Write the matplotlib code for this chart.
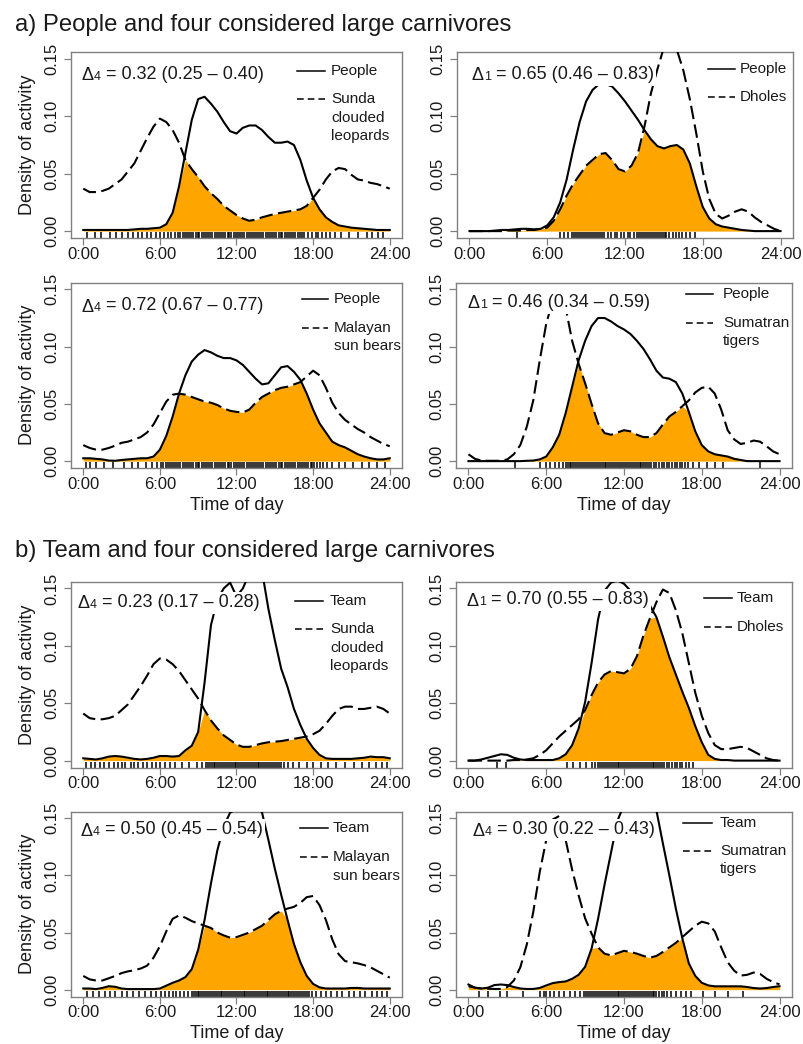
import numpy as np
import matplotlib
matplotlib.use("Agg")
import matplotlib.pyplot as plt
from matplotlib.lines import Line2D

plt.rcParams['font.family'] = ['Liberation Sans', 'DejaVu Sans']

# ---------------- data ----------------
hours = [0, 0.5, 1, 1.5, 2, 2.5, 3, 3.5, 4, 4.5, 5, 5.5,
         6, 6.5, 7, 7.5, 8, 8.5, 9, 9.5, 10, 10.5, 11, 11.5,
         12, 12.5, 13, 13.5, 14, 14.5, 15, 15.5, 16, 16.5, 17, 17.5,
         18, 18.5, 19, 19.5, 20, 20.5, 21, 21.5, 22, 22.5, 23, 23.5, 24]

a1_people = [0.001, 0.001, 0.001, 0.001, 0.001, 0.001, 0.001, 0.001, 0.0015, 0.002, 0.002, 0.0025,
             0.003, 0.006, 0.016, 0.039, 0.068, 0.097, 0.115, 0.117, 0.111, 0.104, 0.095, 0.087,
             0.085, 0.090, 0.092, 0.092, 0.088, 0.082, 0.077, 0.077, 0.078, 0.075, 0.062, 0.044,
             0.029, 0.019, 0.012, 0.008, 0.005, 0.004, 0.003, 0.0025, 0.002, 0.0015, 0.001, 0.001, 0.001]
a1_leopard = [0.037, 0.034, 0.034, 0.035, 0.037, 0.041, 0.045, 0.052, 0.059, 0.070, 0.081, 0.091,
              0.098, 0.095, 0.088, 0.077, 0.062, 0.054, 0.047, 0.039, 0.033, 0.028, 0.022, 0.018,
              0.014, 0.011, 0.009, 0.010, 0.012, 0.0135, 0.015, 0.016, 0.017, 0.018, 0.019, 0.022,
              0.029, 0.036, 0.045, 0.052, 0.055, 0.054, 0.049, 0.045, 0.044, 0.042, 0.041, 0.039, 0.037]

a2_people = [0.0, 0.0, 0.0, 0.0, 0.0005, 0.001, 0.001, 0.0015, 0.002, 0.002, 0.0015, 0.002,
             0.005, 0.012, 0.025, 0.045, 0.071, 0.095, 0.113, 0.123, 0.128, 0.128, 0.126, 0.120,
             0.113, 0.105, 0.097, 0.088, 0.080, 0.074, 0.072, 0.074, 0.075, 0.071, 0.059, 0.039,
             0.021, 0.011, 0.006, 0.004, 0.003, 0.002, 0.001, 0.0005, 0.0, 0.0, 0.0, 0.0, 0.0]
a2_dhole = [0.0, 0.0, 0.0, 0.0, 0.0, 0.0, 0.0005, 0.0005, 0.0005, 0.001, 0.001, 0.002,
            0.003, 0.009, 0.019, 0.031, 0.041, 0.049, 0.057, 0.062, 0.067, 0.068, 0.062, 0.054,
            0.052, 0.057, 0.068, 0.091, 0.120, 0.141, 0.160, 0.168, 0.158, 0.140, 0.115, 0.085,
            0.052, 0.028, 0.015, 0.011, 0.0135, 0.017, 0.019, 0.017, 0.012, 0.008, 0.005, 0.002, 0.0]

a3_people = [0.0025, 0.0025, 0.002, 0.0015, 0.0005, 0.0003, 0.001, 0.0015, 0.002, 0.0025, 0.0025, 0.004,
             0.010, 0.022, 0.039, 0.059, 0.075, 0.087, 0.093, 0.097, 0.095, 0.092, 0.090, 0.090,
             0.088, 0.084, 0.078, 0.072, 0.067, 0.068, 0.075, 0.082, 0.083, 0.078, 0.071, 0.059,
             0.045, 0.033, 0.025, 0.017, 0.014, 0.012, 0.009, 0.006, 0.004, 0.0025, 0.0015, 0.0015, 0.0025]
a3_sunbear = [0.014, 0.0115, 0.010, 0.010, 0.0115, 0.0135, 0.016, 0.017, 0.019, 0.021, 0.025, 0.032,
              0.042, 0.052, 0.058, 0.059, 0.058, 0.056, 0.054, 0.052, 0.051, 0.049, 0.046, 0.044,
              0.043, 0.0425, 0.045, 0.051, 0.056, 0.059, 0.062, 0.064, 0.065, 0.067, 0.069, 0.074,
              0.079, 0.075, 0.064, 0.051, 0.042, 0.036, 0.032, 0.028, 0.025, 0.021, 0.018, 0.015, 0.013]

a4_people = [0.0, 0.0, 0.0, 0.0, 0.0, 0.0, 0.0, 0.0, 0.0, 0.0003, 0.0005, 0.0015,
             0.004, 0.012, 0.023, 0.042, 0.065, 0.088, 0.105, 0.118, 0.125, 0.125, 0.122, 0.118,
             0.115, 0.111, 0.105, 0.098, 0.089, 0.079, 0.073, 0.072, 0.069, 0.059, 0.043, 0.026,
             0.014, 0.0085, 0.006, 0.005, 0.004, 0.002, 0.001, 0.0, 0.0, 0.0, 0.0, 0.0, 0.0]
a4_tiger = [0.006, 0.002, 0.0005, 0.0003, 0.0003, 0.0003, 0.0015, 0.006, 0.014, 0.030, 0.053, 0.088,
            0.120, 0.140, 0.146, 0.134, 0.105, 0.085, 0.068, 0.050, 0.033, 0.0245, 0.023, 0.025,
            0.027, 0.026, 0.023, 0.021, 0.021, 0.0245, 0.032, 0.039, 0.043, 0.048, 0.053, 0.060,
            0.064, 0.065, 0.059, 0.045, 0.027, 0.019, 0.015, 0.016, 0.018, 0.017, 0.013, 0.0085, 0.006]

b1_team = [0.002, 0.0015, 0.001, 0.002, 0.0035, 0.004, 0.0035, 0.0025, 0.0015, 0.001, 0.0015, 0.0025,
           0.004, 0.004, 0.0035, 0.004, 0.009, 0.013, 0.025, 0.068, 0.118, 0.140, 0.150, 0.155,
           0.143, 0.150, 0.163, 0.170, 0.165, 0.132, 0.105, 0.080, 0.064, 0.045, 0.031, 0.019,
           0.011, 0.005, 0.002, 0.0015, 0.0015, 0.0015, 0.0015, 0.002, 0.0025, 0.0035, 0.003, 0.003, 0.002]
b1_leopard = [0.041, 0.037, 0.036, 0.036, 0.037, 0.039, 0.044, 0.049, 0.057, 0.065, 0.074, 0.084,
              0.089, 0.088, 0.084, 0.078, 0.070, 0.062, 0.054, 0.044, 0.035, 0.028, 0.022, 0.018,
              0.014, 0.012, 0.012, 0.0135, 0.015, 0.016, 0.0165, 0.017, 0.018, 0.019, 0.020, 0.021,
              0.023, 0.026, 0.032, 0.039, 0.045, 0.047, 0.047, 0.045, 0.045, 0.046, 0.047, 0.045, 0.041]

b2_team = [0.0, 0.0, 0.001, 0.0025, 0.004, 0.0055, 0.005, 0.0025, 0.001, 0.0005, 0.0005, 0.0005,
           0.0005, 0.0005, 0.002, 0.0055, 0.0135, 0.028, 0.051, 0.085, 0.123, 0.148, 0.155, 0.157,
           0.154, 0.148, 0.143, 0.139, 0.135, 0.125, 0.108, 0.090, 0.075, 0.060, 0.046, 0.030,
           0.016, 0.005, 0.0015, 0.0005, 0.0005, 0.0, 0.0, 0.0, 0.0, 0.0, 0.0, 0.0, 0.0]
b2_dhole = [0.0, 0.0, 0.0, 0.0, 0.0, 0.0, 0.0, 0.0005, 0.0005, 0.001, 0.002, 0.005,
            0.009, 0.015, 0.021, 0.026, 0.031, 0.036, 0.044, 0.057, 0.068, 0.075, 0.078, 0.077,
            0.076, 0.080, 0.091, 0.109, 0.124, 0.138, 0.149, 0.146, 0.131, 0.111, 0.085, 0.059,
            0.039, 0.024, 0.0135, 0.010, 0.010, 0.011, 0.012, 0.011, 0.008, 0.005, 0.002, 0.0005, 0.0]

b3_team = [0.001, 0.001, 0.0005, 0.0015, 0.003, 0.0025, 0.001, 0.0005, 0.0005, 0.0005, 0.0005, 0.0005,
           0.001, 0.0035, 0.006, 0.008, 0.011, 0.018, 0.035, 0.061, 0.093, 0.122, 0.143, 0.155,
           0.158, 0.160, 0.165, 0.162, 0.155, 0.131, 0.106, 0.083, 0.061, 0.040, 0.024, 0.012,
           0.005, 0.002, 0.001, 0.001, 0.001, 0.001, 0.0015, 0.0015, 0.001, 0.001, 0.001, 0.001, 0.001]
b3_sunbear = [0.012, 0.009, 0.008, 0.008, 0.010, 0.012, 0.0145, 0.016, 0.017, 0.0185, 0.021, 0.028,
              0.038, 0.051, 0.062, 0.065, 0.063, 0.060, 0.058, 0.056, 0.054, 0.050, 0.0475, 0.0455,
              0.046, 0.048, 0.050, 0.053, 0.056, 0.061, 0.066, 0.069, 0.071, 0.0725, 0.076, 0.081,
              0.082, 0.074, 0.061, 0.044, 0.031, 0.025, 0.024, 0.023, 0.0215, 0.0195, 0.0165, 0.0135, 0.0105]

b4_team = [0.0045, 0.0017, 0.001, 0.0017, 0.004, 0.0045, 0.004, 0.0023, 0.001, 0.0006, 0.0006, 0.0015,
           0.0037, 0.0057, 0.0066, 0.0072, 0.0095, 0.013, 0.020, 0.036, 0.062, 0.092, 0.120, 0.148,
           0.162, 0.168, 0.170, 0.169, 0.168, 0.157, 0.128, 0.100, 0.071, 0.045, 0.023, 0.012,
           0.006, 0.0037, 0.0029, 0.0029, 0.0029, 0.0029, 0.0029, 0.0023, 0.0014, 0.001, 0.0014, 0.0023, 0.003]
b4_tiger = [0.003, 0.0017, 0.001, 0.0008, 0.0006, 0.0006, 0.0023, 0.008, 0.0195, 0.0395, 0.068, 0.103,
            0.131, 0.149, 0.152, 0.131, 0.105, 0.0825, 0.0625, 0.049, 0.037, 0.0315, 0.030, 0.032,
            0.034, 0.033, 0.0315, 0.0295, 0.028, 0.0295, 0.033, 0.037, 0.041, 0.046, 0.051, 0.056,
            0.0595, 0.058, 0.051, 0.037, 0.024, 0.0166, 0.0123, 0.013, 0.015, 0.0138, 0.0095, 0.0066, 0.0046]

# observation times (rug)
a1_rug = [0.3, 0.9, 1.4, 2.1, 2.6, 3.0, 3.5, 3.9, 4.3, 4.6, 5.0, 5.3, 5.7, 6.0, 6.3, 6.6, 6.9, 7.2,
          7.45, 7.6, 7.8, 7.95, 8.1, 8.3, 8.45, 8.6, 8.8, 8.95, 9.1, 9.3, 9.45, 9.6, 9.8, 9.95,
          10.1, 10.3, 10.45, 10.6, 10.8, 10.95, 11.1, 11.3, 11.45, 11.6, 11.8, 11.95, 12.1, 12.3,
          12.45, 12.6, 12.8, 12.95, 13.1, 13.3, 13.45, 13.6, 13.8, 13.95, 14.1, 14.3, 14.45, 14.6,
          14.8, 14.95, 15.1, 15.3, 15.45, 15.6, 15.8, 15.95, 16.1, 16.3, 16.45, 16.6, 16.8, 16.95,
          17.1, 17.3, 17.6, 17.9, 18.2, 18.4, 18.7, 19.0, 19.3, 19.7, 20.2, 20.8, 21.5, 22.2,
          22.6, 23.1, 23.5]
a2_rug = [3.7, 7.0, 7.3, 7.6, 7.9, 8.1, 8.25, 8.4, 8.55, 8.7, 8.85, 9.0, 9.15, 9.3, 9.45, 9.6,
          9.75, 9.9, 10.05, 10.2, 10.4, 10.7, 10.9, 11.2, 11.4, 11.7, 11.9, 12.2, 12.4, 12.7, 12.9,
          13.1, 13.25, 13.4, 13.55, 13.7, 13.85, 14.0, 14.15, 14.3, 14.45, 14.6, 14.75, 14.9,
          15.05, 15.2, 15.4, 15.7, 15.9, 16.2, 16.4, 16.7, 17.0, 17.4]
a3_rug = [0.2, 0.5, 1.0, 1.6, 2.3, 3.2, 3.8, 4.3, 4.9, 5.4, 5.8, 6.05, 6.25, 6.45, 6.6, 6.8, 6.95,
          7.1, 7.3, 7.45, 7.6, 7.8, 7.95, 8.1, 8.3, 8.45, 8.6, 8.8, 8.95, 9.1, 9.3, 9.45, 9.6, 9.8,
          9.95, 10.1, 10.3, 10.45, 10.6, 10.8, 10.95, 11.1, 11.3, 11.45, 11.6, 11.8, 11.95, 12.1,
          12.3, 12.45, 12.6, 12.8, 12.95, 13.1, 13.3, 13.45, 13.6, 13.8, 13.95, 14.1, 14.3, 14.45,
          14.6, 14.8, 14.95, 15.1, 15.3, 15.45, 15.6, 15.8, 15.95, 16.1, 16.3, 16.45, 16.6, 16.8,
          16.95, 17.1, 17.3, 17.45, 17.6, 17.8, 17.95, 18.1, 18.3, 18.5, 18.8, 19.1, 19.5, 20.0,
          20.5, 21.1, 21.8, 22.4, 23.0, 23.6]
a4_rug = [3.6, 5.5, 6.0, 6.3, 6.7, 7.0, 7.3, 7.5, 7.65, 7.8, 7.95, 8.1, 8.25, 8.4, 8.55, 8.7, 8.85,
          9.0, 9.15, 9.3, 9.45, 9.6, 9.75, 9.9, 10.05, 10.2, 10.35, 10.5, 10.65, 10.8, 10.95, 11.1,
          11.25, 11.4, 11.55, 11.7, 11.85, 12.0, 12.15, 12.3, 12.45, 12.6, 12.75, 12.9, 13.05,
          13.2, 13.35, 13.5, 13.65, 13.8, 13.95, 14.1, 14.3, 14.5, 14.7, 14.9, 15.1, 15.3, 15.5,
          15.7, 15.9, 16.1, 16.3, 16.5, 16.7, 16.9, 17.3, 17.8, 18.4, 19.0, 19.6, 22.5]
b1_rug = [0.2, 0.6, 0.9, 1.3, 1.6, 2.0, 2.4, 2.7, 3.0, 3.3, 3.7, 4.0, 4.3, 4.7, 5.0, 5.4, 5.7, 6.0,
          6.4, 6.8, 7.2, 7.7, 8.3, 8.9, 9.3, 9.6, 9.75, 9.9, 10.05, 10.2, 10.35, 10.5, 10.65, 10.8,
          10.95, 11.1, 11.25, 11.4, 11.55, 11.7, 11.85, 12.0, 12.15, 12.3, 12.45, 12.6, 12.75,
          12.9, 13.05, 13.2, 13.35, 13.5, 13.65, 13.8, 13.95, 14.1, 14.25, 14.4, 14.55, 14.7,
          14.85, 15.0, 15.15, 15.3, 15.5, 15.7, 16.0, 16.4, 16.9, 17.5, 18.0, 18.6, 19.2, 19.8,
          20.5, 21.2, 21.8, 22.4, 22.9, 23.4, 23.8]
b2_rug = [2.2, 2.9, 7.6, 8.1, 8.6, 9.1, 9.5, 9.8, 10.0, 10.15, 10.3, 10.45, 10.6, 10.75, 10.9,
          11.05, 11.2, 11.35, 11.5, 11.65, 11.8, 11.95, 12.1, 12.25, 12.4, 12.55, 12.7, 12.85,
          13.0, 13.15, 13.3, 13.45, 13.6, 13.75, 13.9, 14.05, 14.2, 14.35, 14.5, 14.65, 14.8,
          14.95, 15.1, 15.3, 15.5, 15.7, 15.9, 16.1, 16.3, 16.5, 16.8, 17.0, 17.3]
b3_rug = [0.3, 0.8, 1.2, 1.7, 2.1, 2.5, 3.0, 3.4, 3.9, 4.4, 4.8, 5.3, 5.7, 6.1, 6.4, 6.7, 7.0, 7.3,
          7.6, 7.9, 8.2, 8.5, 8.65, 8.8, 8.95, 9.1, 9.25, 9.4, 9.55, 9.7, 9.85, 10.0, 10.15, 10.3,
          10.45, 10.6, 10.75, 10.9, 11.05, 11.2, 11.35, 11.5, 11.65, 11.8, 11.95, 12.1, 12.25,
          12.4, 12.55, 12.7, 12.85, 13.0, 13.15, 13.3, 13.45, 13.6, 13.75, 13.9, 14.05, 14.2,
          14.35, 14.5, 14.65, 14.8, 14.95, 15.1, 15.25, 15.4, 15.55, 15.7, 15.85, 16.0, 16.15,
          16.3, 16.45, 16.6, 16.75, 16.9, 17.05, 17.2, 17.35, 17.5, 17.7, 17.9, 18.2, 18.6, 19.0,
          19.4, 19.9, 20.3, 20.8, 21.2, 21.7, 22.1, 22.6, 23.0, 23.4, 23.8]
b4_rug = [0.8, 1.5, 2.4, 3.0, 4.2, 5.5, 5.8, 6.0, 6.3, 6.6, 7.0, 7.4, 7.8, 8.2, 8.6, 8.9, 9.1,
          9.25, 9.4, 9.55, 9.7, 9.85, 10.0, 10.15, 10.3, 10.45, 10.6, 10.75, 10.9, 11.05, 11.2,
          11.35, 11.5, 11.65, 11.8, 11.95, 12.1, 12.25, 12.4, 12.55, 12.7, 12.85, 13.0, 13.15,
          13.3, 13.45, 13.6, 13.75, 13.9, 14.05, 14.2, 14.35, 14.5, 14.7, 14.9, 15.1, 15.3, 15.6,
          16.0, 16.4, 16.8, 17.2, 18.1, 19.0, 20.0, 21.2]

solid_series = [a1_people, a2_people, a3_people, a4_people, b1_team, b2_team, b3_team, b4_team]
dashed_series = [a1_leopard, a2_dhole, a3_sunbear, a4_tiger, b1_leopard, b2_dhole, b3_sunbear, b4_tiger]
rugs = [a1_rug, a2_rug, a3_rug, a4_rug, b1_rug, b2_rug, b3_rug, b4_rug]

solid_labels = ["People"] * 4 + ["Team"] * 4
dashed_labels = [["Sunda", "clouded", "leopards"], ["Dholes"], ["Malayan", "sun bears"],
                 ["Sumatran", "tigers"], ["Sunda", "clouded", "leopards"], ["Dholes"],
                 ["Malayan", "sun bears"], ["Sumatran", "tigers"]]
delta_subs = ["4", "1", "4", "1", "4", "1", "4", "4"]
delta_rest = [" = 0.32 (0.25 \u2013 0.40)", " = 0.65 (0.46 \u2013 0.83)",
              " = 0.72 (0.67 \u2013 0.77)", " = 0.46 (0.34 \u2013 0.59)",
              " = 0.23 (0.17 \u2013 0.28)", " = 0.70 (0.55 \u2013 0.83)",
              " = 0.50 (0.45 \u2013 0.54)", " = 0.30 (0.22 \u2013 0.43)"]

x_ticks = [0, 6, 12, 18, 24]
x_ticklabels = ["0:00", "6:00", "12:00", "18:00", "24:00"]
y_ticks = [0.0, 0.05, 0.10, 0.15]
y_ticklabels = ["0.00", "0.05", "0.10", "0.15"]

# ---------------- layout (pixels) ----------------
W, H = 804, 1044
layout = [
    dict(box=(71, 52, 402, 238), delta=(82, 80), leg=(297, 325, 331, 71, 99)),
    dict(box=(457, 52, 793, 238), delta=(472, 80.5), leg=(708, 735, 740, 69, 97)),
    dict(box=(71, 282.5, 402, 468), delta=(82, 311.5), leg=(302, 328, 334, 299, 328)),
    dict(box=(456, 282.5, 792, 468), delta=(468, 308.5), leg=(686, 713, 723, 294, 323)),
    dict(box=(71, 581.5, 402, 767.5), delta=(78, 608.5), leg=(295, 323, 330, 601, 629)),
    dict(box=(456, 581.5, 792, 767.5), delta=(467, 605.5), leg=(704, 732, 737, 598, 627)),
    dict(box=(71, 811.5, 402, 996.5), delta=(81, 835.5), leg=(300, 328, 333, 828, 857)),
    dict(box=(456, 811.5, 792, 996.5), delta=(473, 835.5), leg=(683, 712, 720, 823, 851)),
]

FRAME = "#808080"
TXT = "#1a1a1a"
ORANGE = "#FFA500"

fig = plt.figure(figsize=(W / 100, H / 100), dpi=100)
fig.patch.set_facecolor("white")

fig.text(15 / W, 1 - 31 / H, "a) People and four considered large carnivores",
         fontsize=17.2, color=TXT, ha="left", va="baseline")
fig.text(15 / W, 1 - 557 / H, "b) Team and four considered large carnivores",
         fontsize=17.2, color=TXT, ha="left", va="baseline")

t = np.array(hours)
for i, lay in enumerate(layout):
    l, tp, r, b = lay["box"]
    ax = fig.add_axes([l / W, 1 - b / H, (r - l) / W, (b - tp) / H])

    def to_ax(px, py):
        return (px - l) / (r - l), (b - py) / (b - tp)

    s = np.array(solid_series[i])
    d = np.array(dashed_series[i])
    ax.fill_between(t, 0, np.minimum(s, d), color=ORANGE, lw=0, zorder=1)
    ax.plot(t, s, color="black", lw=1.5, zorder=3, solid_joinstyle="round")
    ax.plot(t, d, color="black", lw=1.5, zorder=3, linestyle=(0, (6.5, 2.6)))
    ax.vlines(rugs[i], 0, 0.03, transform=ax.get_xaxis_transform(),
              color="black", lw=1.1, zorder=2)

    ax.set_xlim(-0.96, 24.96)
    ax.set_ylim(-0.006, 0.156)
    ax.set_xticks(x_ticks)
    ax.set_xticklabels(x_ticklabels)
    ax.set_yticks(y_ticks)
    ax.set_yticklabels(y_ticklabels, rotation=90, va="center")
    ax.tick_params(axis="x", length=5, width=0.9, color=FRAME, pad=1.2,
                   labelsize=12, labelcolor=TXT)
    ax.tick_params(axis="y", length=5, width=0.9, color=FRAME, pad=3.2,
                   labelsize=12, labelcolor=TXT)
    for sp in ax.spines.values():
        sp.set_color(FRAME)
        sp.set_linewidth(1.0)

    if i % 2 == 0:
        ax.text((28 - l) / (r - l), 0.5, "Density of activity", transform=ax.transAxes,
                rotation=90, ha="center", va="center", fontsize=13, color=TXT)
    if i in (2, 3, 6, 7):
        ax.text(0.5, -37 / (b - tp), "Time of day", transform=ax.transAxes,
                ha="center", va="center", fontsize=13, color=TXT)

    # overlap coefficient text (white box hides curves beneath)
    bx = dict(facecolor="white", edgecolor="none", pad=1.5)
    fx, fy = to_ax(*lay["delta"])
    t1 = ax.text(fx, fy, "\u0394", transform=ax.transAxes, fontsize=13, color=TXT,
                 ha="left", va="baseline", zorder=6, bbox=bx)
    t2 = ax.annotate(delta_subs[i], xy=(1, 0.08), xycoords=t1, fontsize=9, color=TXT,
                     ha="left", va="bottom", zorder=8)
    ax.annotate(delta_rest[i], xy=(1, -0.02), xycoords=t2, fontsize=13, color=TXT,
                ha="left", va="bottom", zorder=6, bbox=bx)

    # legend
    x0, x1, xt, y1, y2 = lay["leg"]
    lx0, ly1 = to_ax(x0, y1)
    lx1, ly2 = to_ax(x1, y2)
    ltx, _ = to_ax(xt, y1)
    ax.add_line(Line2D([lx0, lx1], [ly1, ly1], transform=ax.transAxes, color="black",
                       lw=1.1, zorder=6))
    ax.add_line(Line2D([lx0, lx1], [ly2, ly2], transform=ax.transAxes, color="black",
                       lw=1.1, linestyle=(0, (4.4, 2.6)), zorder=6))
    ax.text(ltx, ly1, solid_labels[i], transform=ax.transAxes, fontsize=11, color=TXT,
            ha="left", va="center", zorder=6)
    for k, lab in enumerate(dashed_labels[i]):
        _, yy = to_ax(xt, y2 + 18.5 * k)
        ax.text(ltx, yy, lab, transform=ax.transAxes, fontsize=11, color=TXT,
                ha="left", va="center", zorder=6)

fig.savefig("out.png", dpi=100, facecolor="white")
